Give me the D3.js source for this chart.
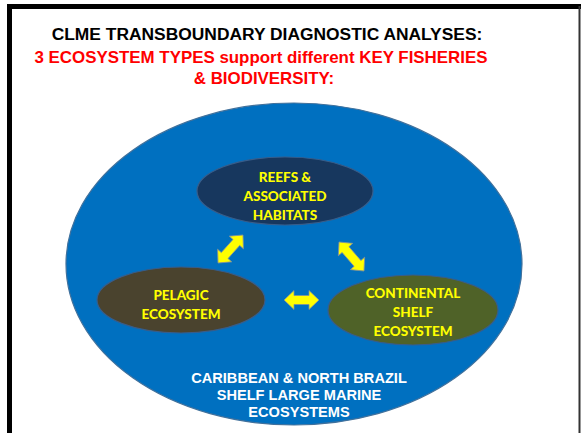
<!DOCTYPE html>
<meta charset="utf-8">
<style>
body { margin: 0; background: #fff; }
svg { display: block; }
</style>
<svg></svg>
<script src="https://cdn.jsdelivr.net/npm/d3@7"></script>
<script>

var width = 581, height = 433

var titleLines = ["CLME TRANSBOUNDARY DIAGNOSTIC ANALYSES:"]
var subtitleLines = ["3 ECOSYSTEM TYPES support different KEY FISHERIES", "& BIODIVERSITY:"]
var regionLines = ["CARIBBEAN & NORTH BRAZIL", "SHELF LARGE MARINE", "ECOSYSTEMS"]
var ecosystems = ["reefs", "pelagic", "shelf"]
var ecoLabels = [["REEFS &", "ASSOCIATED", "HABITATS"], ["PELAGIC", "ECOSYSTEM"], ["CONTINENTAL", "SHELF", "ECOSYSTEM"]]
var links = [["pelagic", "reefs"], ["reefs", "shelf"], ["pelagic", "shelf"]]

// layout (pixels)
var layout = {
  reefs:   { cx: 285, cy: 191, rx: 88, ry: 34, fill: "#17375e", ty: 182 },
  pelagic: { cx: 181, cy: 300, rx: 84, ry: 33, fill: "#4a432e", ty: 300 },
  shelf:   { cx: 413, cy: 310, rx: 85, ry: 35, fill: "#4f6228", ty: 298 }
}
var arrowPos = [
  { x1: 218, y1: 263, x2: 243, y2: 235 },
  { x1: 339, y1: 242, x2: 364, y2: 271 },
  { x1: 284, y1: 300, x2: 319, y2: 300 }
]

var svg = d3.select("svg").attr("width", width).attr("height", height)

// frame
svg.append("line").attr("x1", 9.5).attr("x2", 9.5).attr("y1", 4).attr("y2", height)
  .attr("stroke", "#000").attr("stroke-width", 5)
svg.append("line").attr("x1", 7).attr("x2", width).attr("y1", 6.5).attr("y2", 6.5)
  .attr("stroke", "#000").attr("stroke-width", 5)
svg.append("line").attr("x1", 579.5).attr("x2", 579.5).attr("y1", 6).attr("y2", height)
  .attr("stroke", "#333").attr("stroke-width", 2)

// titles
svg.selectAll("text.title").data(titleLines).enter().append("text")
  .attr("class", "title")
  .attr("x", 267).attr("y", function(d, i) { return 40 + i * 22 })
  .attr("text-anchor", "middle")
  .style("font", "bold 17.4px 'Liberation Sans', Arial, sans-serif")
  .attr("fill", "#000")
  .text(function(d) { return d })

svg.selectAll("text.sub").data(subtitleLines).enter().append("text")
  .attr("class", "sub")
  .attr("x", function(d, i) { return i ? 264 : 261 }).attr("y", function(d, i) { return 63 + i * 21 })
  .attr("text-anchor", "middle")
  .style("font", "bold 16.9px 'Liberation Sans', Arial, sans-serif")
  .attr("fill", "#ff0000")
  .text(function(d) { return d })

// large marine ecosystem
svg.append("ellipse")
  .attr("cx", 294).attr("cy", 264).attr("rx", 228).attr("ry", 161)
  .attr("fill", "#0070c0").attr("stroke", "#41719c").attr("stroke-width", 1.2)

svg.selectAll("text.region").data(regionLines).enter().append("text")
  .attr("class", "region")
  .attr("x", 299).attr("y", function(d, i) { return 383 + i * 17 })
  .attr("text-anchor", "middle")
  .style("font", "bold 14.6px 'Liberation Sans', Arial, sans-serif")
  .attr("fill", "#fff")
  .text(function(d) { return d })

// ecosystems
var eco = svg.selectAll("g.eco").data(ecosystems).enter().append("g").attr("class", "eco")

eco.append("ellipse")
  .attr("cx", function(d) { return layout[d].cx })
  .attr("cy", function(d) { return layout[d].cy })
  .attr("rx", function(d) { return layout[d].rx })
  .attr("ry", function(d) { return layout[d].ry })
  .attr("fill", function(d) { return layout[d].fill })
  .attr("stroke", "#385d8a").attr("stroke-width", 1.2)

eco.each(function(d, i) {
  var g = d3.select(this)
  g.selectAll("text").data(ecoLabels[i]).enter().append("text")
    .attr("x", layout[d].cx)
    .attr("y", function(t, j) { return layout[d].ty + j * 19 })
    .attr("text-anchor", "middle")
    .style("font", "900 13.5px Lato, 'Open Sans', sans-serif")
    .attr("fill", "#ffff00")
    .text(function(t) { return t })
})

// double-headed arrows
function arrowPath(len) {
  var h = len / 2, s = 4.5, w = 9.5, hl = 10
  return "M" + (-h) + ",0 L" + (-h + hl) + "," + (-w) + " L" + (-h + hl) + "," + (-s) +
    " L" + (h - hl) + "," + (-s) + " L" + (h - hl) + "," + (-w) + " L" + h + ",0 L" +
    (h - hl) + "," + w + " L" + (h - hl) + "," + s + " L" + (-h + hl) + "," + s +
    " L" + (-h + hl) + "," + w + " Z"
}

svg.selectAll("path.arrow").data(links).enter().append("path")
  .attr("class", "arrow")
  .attr("d", function(d, i) {
    var p = arrowPos[i]
    return arrowPath(Math.hypot(p.x2 - p.x1, p.y2 - p.y1))
  })
  .attr("transform", function(d, i) {
    var p = arrowPos[i]
    var a = Math.atan2(p.y2 - p.y1, p.x2 - p.x1) * 180 / Math.PI
    return "translate(" + (p.x1 + p.x2) / 2 + "," + (p.y1 + p.y2) / 2 + ") rotate(" + a + ")"
  })
  .attr("fill", "#ffff00").attr("stroke", "#7f8fa0").attr("stroke-width", 0.8)
  .attr("stroke-linejoin", "miter")

</script>
